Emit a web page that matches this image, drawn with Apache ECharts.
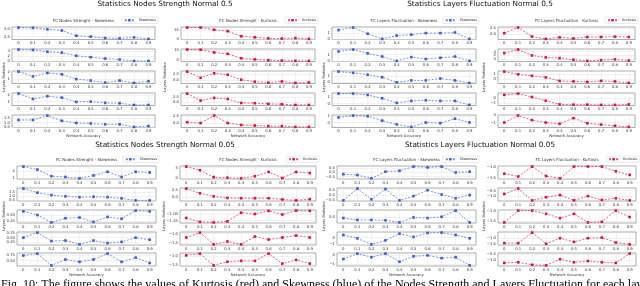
<!DOCTYPE html>
<html><head><meta charset="utf-8">
<script src="https://cdn.jsdelivr.net/npm/echarts@6/dist/echarts.min.js"></script>
<style>html,body{margin:0;padding:0;background:#fff;overflow:hidden}#c{width:640px;height:286px}</style>
</head><body><div id="c"></div><script>
// x categories (network accuracy)
const xVals = [0, 0.1, 0.2, 0.3, 0.4, 0.5, 0.6, 0.7, 0.8, 0.9];
const xLabels = ['0', '0.1', '0.2', '0.3', '0.4', '0.5', '0.6', '0.7', '0.8', '0.9'];

// Statistics Nodes Strength Normal 0.5
const nodes05Skew = [
  [5.6, 5.5, 5.0, 4.6, 2.8, 2.5, 2.0, 1.9, 2.2, 1.7],
  [4.8, 4.65, 3.9, 3.5, 2.2, 1.6, 1.0, 0.6, 0.0, 0.0],
  [2.1, 1.4, 1.9, 1.7, 1.0, 0.8, 0.5, 0.8, 0.45, 0.7],
  [2.2, 1.4, 1.8, 1.6, 0.95, 1.0, 0.8, 0.75, 0.5, 0.5],
  [1.3, 1.3, 1.8, 1.2, 0.95, 0.9, 0.8, 0.8, 0.5, 0.6]
];
const nodes05Kurt = [
  [32, 32, 26, 22, 8, 5, 2, 1.5, 3, 0.5],
  [10.5, 10.3, 7.5, 6, 1.5, 0.3, -0.5, -1, -1.2, -1.3],
  [3.5, 1.0, 2.8, 2.2, 0.2, -0.6, -1.0, -0.5, -1.1, -0.9],
  [4.0, 0.8, 2.0, 1.5, -0.3, -0.4, -0.7, -0.9, -1.2, -1.2],
  [0.4, 0.1, 2.8, 0.1, -0.6, -0.8, -1.0, -1.0, -1.3, -1.3]
];
// Statistics Layers Fluctuation Normal 0.5
const layers05Skew = [
  [1.5, 1.9, 0.9, 0.05, 0.6, 0.75, 1.0, 1.0, 1.1, 0.05],
  [1.5, 1.8, 1.2, 0.7, 0.0, 0.6, 0.3, 0.5, 0.7, 0.0],
  [1.7, 1.5, 1.2, 0.8, 0.0, 0.3, 0.3, 0.6, 0.3, -0.1],
  [1.5, 1.5, 1.3, 0.8, 0.1, 0.4, 0.5, 0.4, 0.4, -0.2],
  [0.8, 1.1, 1.0, 0.3, -0.3, -0.7, 0.0, -0.1, 0.6, 0.0]
];
const layers05Kurt = [
  [0.5, 2.8, -0.9, -1.9, -1.25, -1.7, -1.1, -1.1, -0.95, -1.1],
  [3.2, 5.0, 2.0, 1.0, 0.6, -0.2, -0.8, -0.4, 0.0, -0.6],
  [1.45, 0.9, 0.6, 0.3, -0.4, -0.5, -0.6, -0.4, -0.5, -0.8],
  [0.6, 0.85, 0.2, -0.5, -1.2, -1.25, -1.25, -1.3, -1.3, -1.2],
  [-1.0, -0.05, -0.67, -1.0, -1.17, -0.4, -1.1, -1.28, -1.44, -1.6]
];
// Statistics Nodes Strength Normal 0.05
const nodes005Skew = [
  [2.6, 2.2, 1.3, 1.2, 1.0, 1.4, 1.9, 1.2, 1.9, 1.8],
  [1.9, 1.4, 1.1, 0.95, 0.85, 0.9, 0.85, 0.7, 0.45, 0.45],
  [0.65, 0.5, 0.2, 0.37, 0.4, 0.22, 0.42, 0.35, 0.68, 0.65],
  [0.5, 0.8, 0.3, 0.33, 0.1, 0.33, 0.18, 0.25, 0.5, 0.38],
  [0.72, 0.8, 0.3, 0.55, 0.45, 0.55, 0.8, 0.45, 0.63, 0.4]
];
const nodes005Kurt = [
  [5.5, 3.8, 0.6, 0.3, 0.0, 1.0, 3.0, 0.2, 3.0, 2.5],
  [2.8, 1.3, 0.3, -0.2, -0.3, -0.3, -0.3, -0.7, -1.0, -0.6],
  [-1.15, -1.3, -1.32, -1.28, -0.95, -1.0, -0.88, -1.02, -0.87, -0.88],
  [-1.2, -0.95, -1.55, -1.4, -1.55, -1.15, -1.3, -1.2, -1.1, -1.2],
  [-0.95, -0.85, -1.5, -1.3, -1.25, -1.25, -0.85, -1.4, -1.2, -1.4]
];
// Statistics Layers Fluctuation Normal 0.05
const layers005Skew = [
  [-0.2, -0.3, -0.7, 0.1, 0.2, 0.7, 0.6, 0.7, 0.0, 0.1],
  [-0.5, 0.6, -0.4, 0.55, -0.5, -0.1, 0.45, 0.05, -0.3, 0.0],
  [-0.1, -0.25, -0.25, -0.28, -0.45, -0.05, -0.1, 0.0, 0.5, -0.45],
  [0.4, -0.1, -1.0, -0.4, 0.6, 0.1, 0.7, 0.75, 0.4, -0.1],
  [-0.4, 0.2, -0.2, 0.2, -0.7, -0.1, 0.0, -0.3, -0.2, -1.1]
];
const layers005Kurt = [
  [-1.3, -1.42, -1.0, -1.4, -1.5, -1.0, -1.0, -1.0, -1.2, -1.35],
  [-0.8, -0.3, -1.4, -1.1, -0.9, -1.4, -1.0, -1.35, -1.2, -1.4],
  [-1.55, -1.0, -1.0, -1.15, -1.35, -1.15, -1.55, -1.52, -1.0, -1.3],
  [-1.4, -1.4, -0.55, -1.45, -1.0, -1.3, -1.0, -0.95, -1.35, -1.5],
  [-1.2, -1.15, -1.35, -1.4, -0.9, -1.15, -1.05, -1.15, -1.2, -0.45]
];

// y tick labels
const nodes05SkewTicks = [['2.5', '5.0'], ['0', '2', '4'], ['1', '2'], ['1', '2'], ['0.5', '1.0', '1.5']];
const nodes05KurtTicks = [['0', '25'], ['0', '10'], ['0.0', '2.5'], ['0.0', '2.5'], ['0.0', '2.5']];
const layers05SkewTicks = [['0', '1'], ['0', '1'], ['0', '1'], ['0', '1'], ['0', '1']];
const layers05KurtTicks = [['0.0', '2.5'], ['0', '2', '4'], ['0', '1'], ['-1', '0'], ['-1', '0']];
const nodes005SkewTicks = [['1', '2'], ['0.5', '1.0', '1.5'], ['0.25', '0.50'], ['0.25', '0.50', '0.75'], ['0.50', '0.75']];
const nodes005KurtTicks = [['0', '5'], ['0.0', '2.5'], ['-1.25', '-1.00'], ['-1.5', '-1.0'], ['-1.5', '-1.0']];
const layers005SkewTicks = [['-0.5', '0.0', '0.5'], ['-0.5', '0.0', '0.5'], ['-0.5', '0.0'], ['-1', '0'], ['-1', '0']];
const layers005KurtTicks = [['-1.5', '-1.0'], ['-1.5', '-1.0', '-0.5'], ['-1.5', '-1.0'], ['-1.5', '-1.0', '-0.5'], ['-1.5', '-1.0', '-0.5']];

const mainTitles = ['Statistics Nodes Strength Normal 0.5', 'Statistics Layers Fluctuation Normal 0.5',
  'Statistics Nodes Strength Normal 0.05', 'Statistics Layers Fluctuation Normal 0.05'];
const subTitles = [['FC Nodes Strenght - Skewness', 'FC Nodes Strenght - Kurtosis'],
  ['FC Layers Fluctuation - Skewness', 'FC Layers Fluctuation - Kurtosis'],
  ['FC Nodes Strenght - Skewness', 'FC Nodes Strenght - Kurtosis'],
  ['FC Layers Fluctuation - Skewness', 'FC Layers Fluctuation - Kurtosis']];
const seriesNames = ['Skewness', 'Kurtosis'];
const caption = 'Fig. 10: The figure shows the values of Kurtosis (red) and Skewness (blue) of the Nodes Strength and Layers Fluctuation for each layer';

const panelData = [
  [nodes05Skew, nodes05Kurt, nodes05SkewTicks, nodes05KurtTicks],
  [layers05Skew, layers05Kurt, layers05SkewTicks, layers05KurtTicks],
  [nodes005Skew, nodes005Kurt, nodes005SkewTicks, nodes005KurtTicks],
  [layers005Skew, layers005Kurt, layers005SkewTicks, layers005KurtTicks]
];

// layout (positions only)
const layout = [
  { cx: 165, titleY: 4.5, subY: 21, legY: 17, tops: [27, 49, 71, 93, 115], h: 12.5, cols: [[12, 155], [181, 315]], ylabX: [2, 163], ylabY: 77 },
  { cx: 480, titleY: 4.5, subY: 21, legY: 17, tops: [27, 49, 71, 93, 115], h: 12.5, cols: [[332, 476], [498, 635]], ylabX: [322, 482], ylabY: 77 },
  { cx: 165, titleY: 145, subY: 159.5, legY: 156, tops: [166, 188, 210, 232, 253], h: 13, cols: [[17, 156], [180, 316]], ylabX: [2, 162], ylabY: 216 },
  { cx: 480, titleY: 145, subY: 159.5, legY: 156, tops: [166, 188, 210, 232, 253], h: 13, cols: [[337, 476], [498, 636]], ylabX: [322, 482], ylabY: 216 }
];
const colors = ['#3a5fd9', '#dc143c'];
const FONT = 'DejaVu Sans';

const option = { animation: false, backgroundColor: '#fff', grid: [], xAxis: [], yAxis: [], series: [], legend: [], graphic: [] };
const fmtMinus = s => s.replace('-', '\u2212');
let idx = 0;
layout.forEach((L, pi) => {
  option.graphic.push({ type: 'text', x: L.cx, y: L.titleY, style: { text: mainTitles[pi], fontSize: 7.3, fontFamily: FONT, fill: '#111', textAlign: 'center', textVerticalAlign: 'middle', align: 'center', verticalAlign: 'middle' } });
  L.cols.forEach((col, ci) => {
    const rows = panelData[pi][ci];
    const ticks = panelData[pi][ci + 2];
    const cxCol = (col[0] + col[1]) / 2;
    option.graphic.push({ type: 'text', x: cxCol, y: L.subY, style: { text: subTitles[pi][ci], fontSize: 4, fontFamily: FONT, fill: '#333', textAlign: 'center', textVerticalAlign: 'middle', align: 'center', verticalAlign: 'middle' } });
    option.graphic.push({ type: 'text', x: L.ylabX[ci], y: L.ylabY, rotation: Math.PI / 2, style: { text: 'Layers Statistics', fontSize: 3.6, fontFamily: FONT, fill: '#333', textAlign: 'center', textVerticalAlign: 'top', align: 'center', verticalAlign: 'top' } });
    option.legend.push({ data: [seriesNames[ci]], right: 640 - (col[1] + 3), top: L.legY, itemWidth: 9, itemHeight: 3, itemGap: 2, padding: [1.2, 2, 1.2, 2],
      textStyle: { fontSize: 3.5, color: '#333', fontFamily: FONT }, borderColor: '#d0d0d0', borderWidth: 0.5, borderRadius: 1, backgroundColor: '#fff' });
    rows.forEach((vals, r) => {
      let mn = Math.min(...vals), mx = Math.max(...vals);
      const pad = (mx - mn) * 0.05;
      const tickStrs = ticks[r];
      const tickVals = tickStrs.map(parseFloat);
      option.grid.push({ left: col[0], top: L.tops[r], width: col[1] - col[0], height: L.h, show: true, borderColor: '#8a8a8a', borderWidth: 0.7, backgroundColor: '#fff' });
      option.xAxis.push({ type: 'value', gridIndex: idx, min: -0.045, max: 0.945,
        axisLine: { show: false }, axisTick: { show: false, customValues: xVals },
        axisLabel: { customValues: xVals, fontSize: 3.8, margin: 2, color: '#333', fontFamily: FONT, formatter: v => xLabels[Math.round(v * 10)] },
        splitLine: { show: true, lineStyle: { color: '#e2e2e2', width: 0.5 } },
        name: r === 4 ? 'Network Accuracy' : '', nameLocation: 'middle', nameGap: 7, nameTextStyle: { fontSize: 3.8, color: '#333', fontFamily: FONT } });
      option.yAxis.push({ type: 'value', gridIndex: idx, min: mn - pad, max: mx + pad,
        axisLine: { show: false }, axisTick: { show: false, customValues: tickVals },
        axisLabel: { customValues: tickVals, fontSize: 3.8, margin: 2, color: '#333', fontFamily: FONT,
          formatter: v => { const k = tickVals.findIndex(t => Math.abs(t - v) < 1e-9); return k >= 0 ? fmtMinus(tickStrs[k]) : ''; } },
        splitLine: { show: true, lineStyle: { color: '#e2e2e2', width: 0.5 } } });
      option.series.push({ type: 'line', name: seriesNames[ci], xAxisIndex: idx, yAxisIndex: idx,
        data: vals.map((v, i) => [xVals[i], v]), symbol: 'rect', symbolSize: 2.6,
        itemStyle: { color: colors[ci] }, lineStyle: { color: colors[ci], width: 0.9, type: [2, 1.5], opacity: 0.75 } });
      idx++;
    });
  });
});
option.graphic.push({ type: 'text', x: 1, y: 279, style: { text: caption, fontSize: 12, fontFamily: 'Liberation Serif', fill: '#000', textAlign: 'left', textVerticalAlign: 'top', align: 'left', verticalAlign: 'top' } });

const chart = echarts.init(document.getElementById('c'), null, { renderer: 'canvas' });
chart.setOption(option);
</script></body></html>
